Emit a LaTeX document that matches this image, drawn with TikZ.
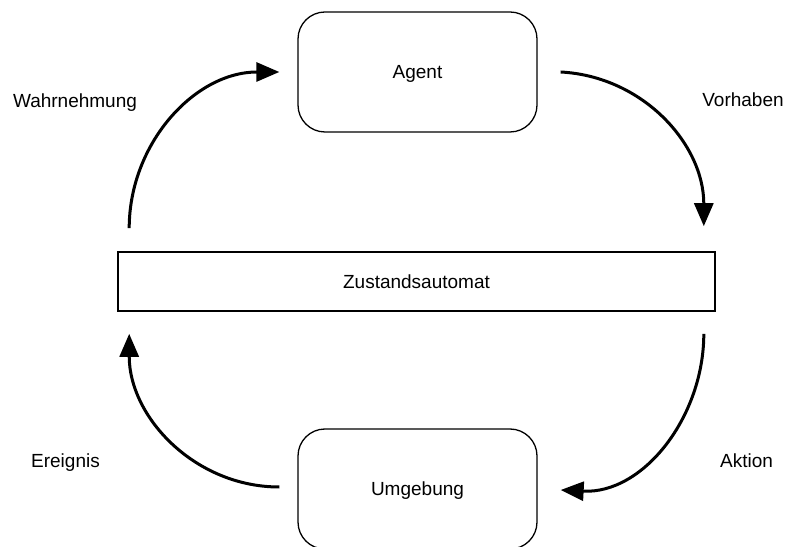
\documentclass[tikz,border=0pt]{standalone}
\usepackage{fontspec}
\setmainfont{Liberation Sans}
\usetikzlibrary{arrows.meta}
\begin{document}
\begin{tikzpicture}[x=1pt,y=1pt,
  every node/.style={font=\fontsize{19}{23}\selectfont},
  roundbox/.style={draw, rounded corners=27pt, line width=1.3pt,
    minimum width=239pt, minimum height=120pt, inner sep=0pt, text depth=0pt},
  statebox/.style={draw, line width=1.6pt,
    minimum width=597pt, minimum height=59pt, inner sep=0pt, text depth=0pt},
  flow/.style={line width=3pt, -{Triangle[length=23pt,width=19pt]}},
  lbl/.style={anchor=base, inner sep=0pt}]
\useasboundingbox (0,0) rectangle (789,546);

% boxes
\node[roundbox] (agent) at (417.5,474) {Agent};
\node[statebox] (za) at (416.5,264.5) {Zustandsautomat};
\node[roundbox] (env) at (417.5,57) {Umgebung};

% connector end points
\coordinate (wStart) at ([shift={(12,23)}]za.north west);
\coordinate (wEnd)   at ([xshift=-18]agent.west);
\coordinate (vStart) at ([xshift=23]agent.east);
\coordinate (vEnd)   at ([shift={(-12,25)}]za.north east);
\coordinate (aStart) at ([shift={(-12,-22)}]za.south east);
\coordinate (aEnd)   at ([shift={(23,-1)}]env.east);
\coordinate (eStart) at ([shift={(-18,2)}]env.west);
\coordinate (eEnd)   at ([shift={(12,-22)}]za.south west);

% cycle
\draw[flow] (wStart) to[out=90,in=180] (wEnd);
\draw[flow] (vStart) to[out=-3,in=90] (vEnd);
\draw[flow] (aStart) to[out=-90,in=-3] (aEnd);
\draw[flow] (eStart) to[out=180,in=-90] (eEnd);

% labels
\node[lbl] (lw) at (75,438)   {Wahrnehmung};
\node[lbl] (lv) at (743,439)  {Vorhaben};
\node[lbl] (le) at (65.5,79)  {Ereignis};
\node[lbl] (la) at (746.5,79) {Aktion};
\end{tikzpicture}
\end{document}
